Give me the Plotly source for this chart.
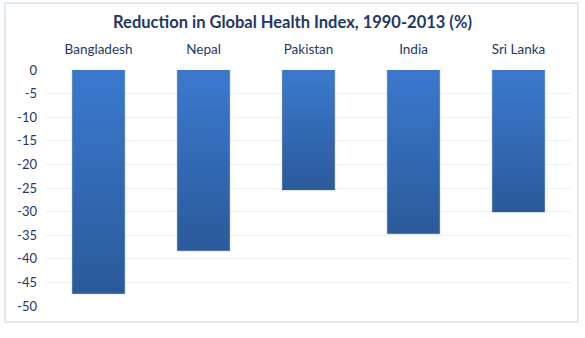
import plotly.graph_objects as go

# Reduction in Global Health Index, 1990-2013 (%)
countries = ["Bangladesh", "Nepal", "Pakistan", "India", "Sri Lanka"]
reduction = [-47.4, -38.3, -25.4, -34.7, -30.1]
y_ticks = [0, -5, -10, -15, -20, -25, -30, -35, -40, -45, -50]

navy = "#1F3864"
bar_top = "#3B79CE"
bar_bottom = "#2B5A9A"
half_width = 0.25

fig = go.Figure()

# Each bar is a filled column with a vertical colour gradient
for i, value in enumerate(reduction):
    fig.add_trace(
        go.Scatter(
            x=[i - half_width, i + half_width, i + half_width, i - half_width, i - half_width],
            y=[0, 0, value, value, 0],
            mode="lines",
            fill="toself",
            line=dict(width=0.6, color="rgba(43,90,154,0.6)"),
            fillgradient=dict(
                type="vertical",
                colorscale=[[0, bar_bottom], [1, bar_top]],
                start=value,
                stop=0,
            ),
            hoverinfo="text",
            text=f"{countries[i]}: {value}",
            name=countries[i],
        )
    )

fig.update_layout(
    width=585,
    height=338,
    margin=dict(l=46, r=14, t=70, b=32),
    paper_bgcolor="white",
    plot_bgcolor="white",
    showlegend=False,
    font=dict(family="Lato, Open Sans, sans-serif", color=navy, size=12),
    title=dict(
        text="<b>Reduction in Global Health Index, 1990-2013 (%)</b>",
        x=0.5,
        xanchor="center",
        y=0.935,
        yanchor="middle",
        font=dict(size=16.5, color=navy),
    ),
    shapes=[
        dict(
            type="rect", xref="paper", yref="paper",
            x0=-0.078, x1=1.013, y0=-0.068, y1=1.284,
            line=dict(color="#D6E4F0", width=1.5),
            fillcolor="rgba(0,0,0,0)",
            layer="below",
        )
    ],
)

fig.update_xaxes(
    side="top",
    range=[-0.5, len(countries) - 0.5],
    tickvals=list(range(len(countries))),
    ticktext=countries,
    showgrid=False,
    showline=False,
    zeroline=False,
    ticks="",
    ticklabelstandoff=12,
    tickfont=dict(size=13.5, color=navy),
)

fig.update_yaxes(
    range=[-50, 0],
    tickvals=y_ticks,
    ticktext=[str(v) for v in y_ticks],
    showgrid=True,
    gridcolor="#EEF2F7",
    gridwidth=1,
    zeroline=False,
    showline=False,
    ticks="",
    ticklabelstandoff=8,
    tickfont=dict(size=13, color=navy),
)

fig.write_html("out.html")
